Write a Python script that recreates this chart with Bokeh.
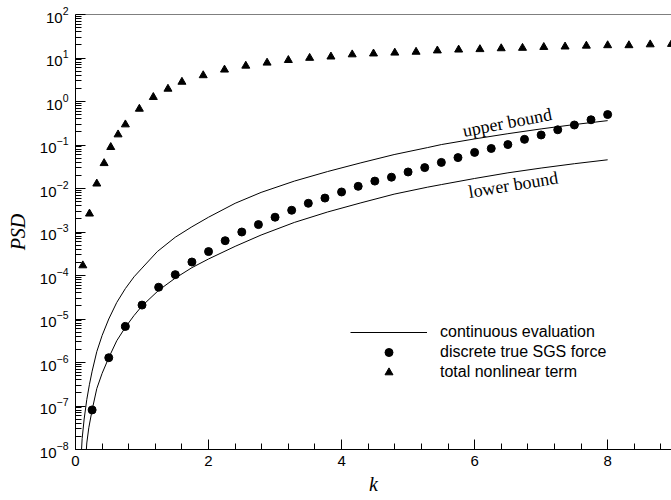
import numpy as np
from bokeh.plotting import figure
from bokeh.models import (Range1d, Label, Legend, LegendItem, Span,
                          SingleIntervalTicker, FixedTicker)
from bokeh.embed import file_html
from bokeh.resources import INLINE

# ---- data (PSD given as log10 exponents) ----
upper_k = [0.08, 0.10, 0.13, 0.17, 0.21, 0.25, 0.32, 0.40, 0.50, 0.62, 0.75,
           0.88, 1.00, 1.23, 1.50, 1.75, 2.00, 2.40, 2.79, 3.29, 3.79, 4.29,
           4.79, 5.29, 5.50, 6.00, 6.50, 7.00, 7.50, 8.00]
upper_log10 = [-8.3, -7.75, -7.3, -6.85, -6.5, -6.2, -5.75, -5.38, -5.0, -4.62,
               -4.3, -4.03, -3.83, -3.45, -3.12, -2.88, -2.66, -2.34, -2.09,
               -1.83, -1.61, -1.41, -1.22, -1.06, -0.99, -0.86, -0.74, -0.63,
               -0.53, -0.44]

lower_k = [0.15, 0.17, 0.20, 0.25, 0.32, 0.40, 0.50, 0.62, 0.75, 0.88, 1.00,
           1.25, 1.50, 1.75, 2.00, 2.40, 2.79, 3.29, 3.79, 4.29, 4.79, 5.29,
           5.50, 6.00, 6.50, 7.00, 7.50, 8.00]
lower_log10 = [-8.3, -7.85, -7.5, -7.09, -6.6, -6.25, -5.89, -5.5, -5.19, -4.92,
               -4.70, -4.34, -4.06, -3.82, -3.62, -3.33, -3.07, -2.78, -2.54,
               -2.33, -2.13, -1.97, -1.91, -1.77, -1.64, -1.53, -1.43, -1.34]

sgs_k = [0.25, 0.5, 0.75, 1.0, 1.25, 1.5, 1.75, 2.0, 2.25, 2.5, 2.75, 3.0,
         3.25, 3.5, 3.75, 4.0, 4.25, 4.5, 4.75, 5.0, 5.25, 5.5, 5.75, 6.0,
         6.25, 6.5, 6.75, 7.0, 7.25, 7.5, 7.75, 8.0]
sgs_log10 = [-7.09, -5.89, -5.17, -4.68, -4.27, -3.98, -3.69, -3.45, -3.20,
             -3.00, -2.83, -2.66, -2.50, -2.34, -2.22, -2.08, -1.95, -1.83,
             -1.74, -1.62, -1.52, -1.40, -1.29, -1.17, -1.08, -0.99, -0.87,
             -0.77, -0.65, -0.54, -0.42, -0.30]

nl_k = [0.11, 0.21, 0.32, 0.43, 0.53, 0.64, 0.75, 0.96, 1.17, 1.39, 1.60,
        1.92, 2.24, 2.56, 2.88, 3.20, 3.52, 3.84, 4.16, 4.48, 4.80, 5.12,
        5.44, 5.76, 6.08, 6.40, 6.72, 7.04, 7.36, 7.68, 8.00, 8.32, 8.64, 8.96]
nl_log10 = [-3.77, -2.58, -1.89, -1.42, -1.05, -0.76, -0.53, -0.17, 0.10, 0.29,
            0.45, 0.60, 0.73, 0.82, 0.89, 0.95, 1.00, 1.03, 1.08, 1.10, 1.12,
            1.14, 1.17, 1.19, 1.20, 1.22, 1.23, 1.25, 1.26, 1.28, 1.29, 1.29,
            1.31, 1.32]

x_ticks = [0, 2, 4, 6, 8]
y_decades = [-8, -7, -6, -5, -4, -3, -2, -1, 0, 1, 2]
legend_labels = ["continuous evaluation", "discrete true SGS force",
                 "total nonlinear term"]

upper = 10 ** np.array(upper_log10)
lower = 10 ** np.array(lower_log10)
sgs = 10 ** np.array(sgs_log10)
nl = 10 ** np.array(nl_log10)

y_major = [10.0 ** d for d in y_decades]
y_minor = [m * 10.0 ** d for d in y_decades[:-1] for m in range(2, 10)]

p = figure(width=671, height=500, y_axis_type="log",
           x_range=Range1d(0, 8.96), y_range=Range1d(1e-8, 1e2),
           output_backend="svg", toolbar_location=None,
           min_border_left=75, min_border_right=0, min_border_top=14,
           min_border_bottom=51)
p.outline_line_color = None
p.xgrid.visible = False
p.ygrid.visible = False
p.background_fill_color = "white"
p.border_fill_color = "white"

p.add_layout(Span(location=1e2, dimension="width", line_color="black",
                  line_width=1))

r_up = p.line(upper_k, upper, line_color="black", line_width=1)
r_lo = p.line(lower_k, lower, line_color="black", line_width=1)
r_sgs = p.scatter(sgs_k, sgs, marker="circle", size=8, fill_color="black",
                  line_color="black")
r_nl = p.scatter(nl_k, nl, marker="triangle", size=8, fill_color="black",
                 line_color="black")

for ax in (p.xaxis[0], p.yaxis[0]):
    ax.axis_line_color = "black"
    ax.major_tick_line_color = "black"
    ax.minor_tick_line_color = "black"
    ax.major_tick_in = 10
    ax.major_tick_out = 0
    ax.minor_tick_in = 6
    ax.minor_tick_out = 0
    ax.major_label_text_font = "Liberation Sans"
    ax.major_label_text_font_size = "15px"
    ax.major_label_text_color = "black"
    ax.axis_label_text_font = "Liberation Serif"
    ax.axis_label_text_font_style = "italic"
    ax.axis_label_text_font_size = "20px"
    ax.axis_label_text_color = "black"

p.xaxis[0].ticker = SingleIntervalTicker(interval=2, num_minor_ticks=5)
p.xaxis[0].major_label_standoff = 6
p.xaxis[0].axis_label = "k"
p.xaxis[0].axis_label_standoff = 4
p.yaxis[0].ticker = FixedTicker(ticks=y_major, minor_ticks=y_minor)
p.yaxis[0].major_label_standoff = 7
p.yaxis[0].axis_label = "PSD"
p.yaxis[0].axis_label_standoff = 8

p.add_layout(Label(x=6.49, y=10 ** -0.483, text="upper bound", angle=0.191,
                   text_align="center", text_baseline="alphabetic",
                   text_font="Liberation Serif", text_font_size="18px",
                   text_color="black"))
p.add_layout(Label(x=6.58, y=10 ** -1.913, text="lower bound", angle=0.162,
                   text_align="center", text_baseline="alphabetic",
                   text_font="Liberation Serif", text_font_size="18px",
                   text_color="black"))

legend = Legend(items=[LegendItem(label=legend_labels[0], renderers=[r_up]),
                       LegendItem(label=legend_labels[1], renderers=[r_sgs]),
                       LegendItem(label=legend_labels[2], renderers=[r_nl])],
                location=(275, 67), border_line_color=None,
                background_fill_alpha=0, padding=0, margin=0, spacing=0,
                glyph_width=77, glyph_height=20, label_height=20,
                label_standoff=13, label_text_font="Liberation Sans",
                label_text_font_size="16px", label_text_color="black")
p.add_layout(legend)

open("out.html", "w").write(file_html(p, INLINE))
